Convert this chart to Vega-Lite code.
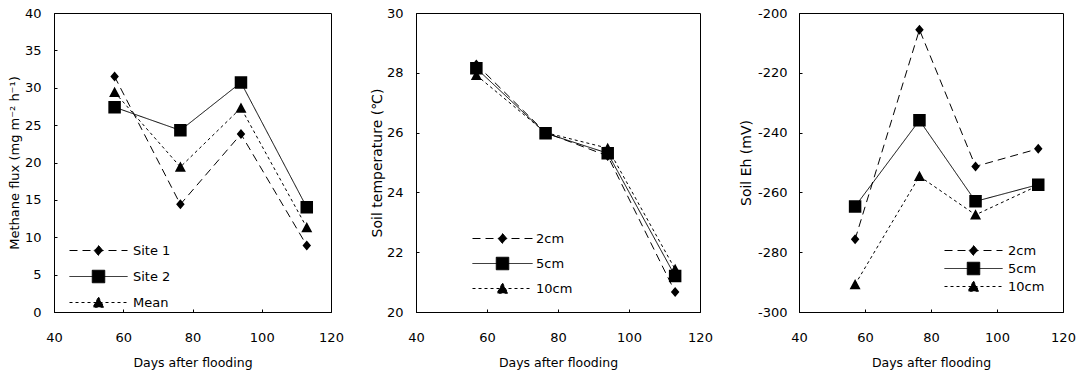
{
  "$schema": "https://vega.github.io/schema/vega-lite/v6.json",
  "padding": {"left": 7, "top": 6, "right": 5, "bottom": 4},
  "spacing": 25,
  "resolve": {"scale": {"shape": "independent", "strokeDash": "independent"}, "legend": {"shape": "independent", "strokeDash": "independent"}},
  "config": {
    "font": "DejaVu Sans",
    "view": {"stroke": "black", "strokeWidth": 1},
    "axis": {"grid": false, "domainColor": "black", "tickColor": "black", "tickSize": -3, "labelColor": "black", "titleColor": "black", "labelFontSize": 13, "titleFontSize": 12.5, "titleFontWeight": "normal", "labelFont": "DejaVu Sans", "titleFont": "DejaVu Sans", "labelFlush": false, "labelOverlap": false, "labelExpr": "'' + datum.value"},
    "axisX": {"labelPadding": 22, "titlePadding": 12},
    "legend": {"labelFontSize": 13, "labelColor": "black", "labelFont": "DejaVu Sans", "symbolStrokeColor": "black", "symbolStrokeWidth": 1, "symbolFillColor": "black", "symbolSize": 100, "padding": 0}
  },
  "datasets": {
    "flux": [
      {"day": 57.5, "v": 31.5, "s": "Site 1"}, {"day": 76.5, "v": 14.4, "s": "Site 1"}, {"day": 94, "v": 23.8, "s": "Site 1"}, {"day": 113, "v": 8.9, "s": "Site 1"},
      {"day": 57.5, "v": 27.4, "s": "Site 2"}, {"day": 76.5, "v": 24.3, "s": "Site 2"}, {"day": 94, "v": 30.7, "s": "Site 2"}, {"day": 113, "v": 14.0, "s": "Site 2"},
      {"day": 57.5, "v": 29.4, "s": "Mean"}, {"day": 76.5, "v": 19.4, "s": "Mean"}, {"day": 94, "v": 27.3, "s": "Mean"}, {"day": 113, "v": 11.3, "s": "Mean"}
    ],
    "temp": [
      {"day": 57, "v": 28.28, "s": "2cm"}, {"day": 76.5, "v": 26.0, "s": "2cm"}, {"day": 94, "v": 25.22, "s": "2cm"}, {"day": 113, "v": 20.67, "s": "2cm"},
      {"day": 57, "v": 28.15, "s": "5cm"}, {"day": 76.5, "v": 25.98, "s": "5cm"}, {"day": 94, "v": 25.31, "s": "5cm"}, {"day": 113, "v": 21.2, "s": "5cm"},
      {"day": 57, "v": 27.92, "s": "10cm"}, {"day": 76.5, "v": 26.0, "s": "10cm"}, {"day": 94, "v": 25.48, "s": "10cm"}, {"day": 113, "v": 21.43, "s": "10cm"}
    ],
    "eh": [
      {"day": 57, "v": -275.7, "s": "2cm"}, {"day": 76.5, "v": -205.6, "s": "2cm"}, {"day": 93.5, "v": -251.3, "s": "2cm"}, {"day": 112.5, "v": -245.4, "s": "2cm"},
      {"day": 57, "v": -264.7, "s": "5cm"}, {"day": 76.5, "v": -235.9, "s": "5cm"}, {"day": 93.5, "v": -263.0, "s": "5cm"}, {"day": 112.5, "v": -257.4, "s": "5cm"},
      {"day": 57, "v": -290.8, "s": "10cm"}, {"day": 76.5, "v": -254.6, "s": "10cm"}, {"day": 93.5, "v": -267.5, "s": "10cm"}, {"day": 112.5, "v": -257.7, "s": "10cm"}
    ]
  },
  "hconcat": [
    {
      "width": 277, "height": 299,
      "data": {"name": "flux"},
      "encoding": {
        "x": {"field": "day", "type": "quantitative", "scale": {"domain": [40, 120], "nice": false}, "axis": {"values": [40, 60, 80, 100, 120], "title": "Days after flooding"}},
        "y": {"field": "v", "type": "quantitative", "scale": {"domain": [0, 40], "nice": false}, "axis": {"values": [0, 5, 10, 15, 20, 25, 30, 35, 40], "title": "Methane flux (mg m⁻² h⁻¹)", "titleFontSize": 13, "labelPadding": 16, "titlePadding": 3}}
      },
      "layer": [
        {"mark": {"type": "line", "color": "black", "strokeWidth": 1},
         "encoding": {"strokeDash": {"field": "s", "type": "nominal", "scale": {"domain": ["Site 1", "Site 2", "Mean"], "range": [[8, 5], [1, 0], [3, 3]]},
             "legend": {"orient": "none", "legendX": 38, "legendY": 231, "title": null, "labelOffset": 28, "rowPadding": 10, "encode": {"symbols": {"update": {"stroke": {"value": "black"}, "strokeWidth": {"value": 1}, "fill": {"value": "black"}}}}}}}},
        {"mark": {"type": "point", "filled": true, "color": "black", "size": 100, "opacity": 1},
         "encoding": {
           "shape": {"field": "s", "type": "nominal", "scale": {"domain": ["Site 1", "Site 2", "Mean"], "range": ["M-5.8,0H5.8M0,-1L0.85,0L0,1L-0.85,0Z", "M-5.8,0H5.8M-1.25,-1.25H1.25V1.25H-1.25Z", "M-5.8,0H5.8M0,-1.1L1.1,0.95H-1.1Z"]},
             "legend": {"orient": "none", "legendX": 38, "legendY": 231, "title": null, "labelOffset": 28, "rowPadding": 10, "encode": {"symbols": {"update": {"stroke": {"value": "black"}, "strokeWidth": {"value": 1}, "fill": {"value": "black"}}}}}},
           "strokeDash": {"field": "s", "type": "nominal", "scale": {"domain": ["Site 1", "Site 2", "Mean"], "range": [[8, 5], [1, 0], [3, 3]]},
             "legend": {"orient": "none", "legendX": 38, "legendY": 231, "title": null, "labelOffset": 28, "rowPadding": 10, "encode": {"symbols": {"update": {"stroke": {"value": "black"}, "strokeWidth": {"value": 1}, "fill": {"value": "black"}}}}}}
         }}
      ]
    },
    {
      "width": 284, "height": 299,
      "data": {"name": "temp"},
      "encoding": {
        "x": {"field": "day", "type": "quantitative", "scale": {"domain": [40, 120], "nice": false}, "axis": {"values": [40, 60, 80, 100, 120], "title": "Days after flooding"}},
        "y": {"field": "v", "type": "quantitative", "scale": {"domain": [20, 30], "nice": false}, "axis": {"values": [20, 22, 24, 26, 28, 30], "title": "Soil temperature (℃)", "titleFontSize": 14, "labelPadding": 16, "titlePadding": 2}}
      },
      "layer": [
        {"mark": {"type": "line", "color": "black", "strokeWidth": 1},
         "encoding": {"strokeDash": {"field": "s", "type": "nominal", "scale": {"domain": ["2cm", "5cm", "10cm"], "range": [[8, 5], [1, 0], [3, 3]]},
             "legend": {"orient": "none", "legendX": 80, "legendY": 219, "title": null, "labelOffset": 27, "rowPadding": 9, "encode": {"symbols": {"update": {"stroke": {"value": "black"}, "strokeWidth": {"value": 1}, "fill": {"value": "black"}}}}}}}},
        {"mark": {"type": "point", "filled": true, "color": "black", "size": 100, "opacity": 1},
         "encoding": {
           "shape": {"field": "s", "type": "nominal", "scale": {"domain": ["2cm", "5cm", "10cm"], "range": ["M-6,0H6M0,-1L0.85,0L0,1L-0.85,0Z", "M-6,0H6M-1.25,-1.25H1.25V1.25H-1.25Z", "M-6,0H6M0,-1.1L1.1,0.95H-1.1Z"]},
             "legend": {"orient": "none", "legendX": 80, "legendY": 219, "title": null, "labelOffset": 27, "rowPadding": 9, "encode": {"symbols": {"update": {"stroke": {"value": "black"}, "strokeWidth": {"value": 1}, "fill": {"value": "black"}}}}}},
           "strokeDash": {"field": "s", "type": "nominal", "scale": {"domain": ["2cm", "5cm", "10cm"], "range": [[8, 5], [1, 0], [3, 3]]},
             "legend": {"orient": "none", "legendX": 80, "legendY": 219, "title": null, "labelOffset": 27, "rowPadding": 9, "encode": {"symbols": {"update": {"stroke": {"value": "black"}, "strokeWidth": {"value": 1}, "fill": {"value": "black"}}}}}}
         }}
      ]
    },
    {
      "width": 264, "height": 299,
      "data": {"name": "eh"},
      "encoding": {
        "x": {"field": "day", "type": "quantitative", "scale": {"domain": [40, 120], "nice": false}, "axis": {"values": [40, 60, 80, 100, 120], "title": "Days after flooding"}},
        "y": {"field": "v", "type": "quantitative", "scale": {"domain": [-300, -200], "nice": false}, "axis": {"values": [-300, -280, -260, -240, -220, -200], "title": "Soil Eh (mV)", "titleFontSize": 14, "labelPadding": 15, "titlePadding": 4}}
      },
      "layer": [
        {"mark": {"type": "line", "color": "black", "strokeWidth": 1},
         "encoding": {"strokeDash": {"field": "s", "type": "nominal", "scale": {"domain": ["2cm", "5cm", "10cm"], "range": [[8, 5], [1, 0], [3, 3]]},
             "legend": {"orient": "none", "legendX": 168, "legendY": 231, "title": null, "labelOffset": 28, "rowPadding": 2, "encode": {"symbols": {"update": {"stroke": {"value": "black"}, "strokeWidth": {"value": 1}, "fill": {"value": "black"}}}}}}}},
        {"mark": {"type": "point", "filled": true, "color": "black", "size": 100, "opacity": 1},
         "encoding": {
           "shape": {"field": "s", "type": "nominal", "scale": {"domain": ["2cm", "5cm", "10cm"], "range": ["M-5.8,0H5.8M0,-1L0.85,0L0,1L-0.85,0Z", "M-5.8,0H5.8M-1.25,-1.25H1.25V1.25H-1.25Z", "M-5.8,0H5.8M0,-1.1L1.1,0.95H-1.1Z"]},
             "legend": {"orient": "none", "legendX": 168, "legendY": 231, "title": null, "labelOffset": 28, "rowPadding": 2, "encode": {"symbols": {"update": {"stroke": {"value": "black"}, "strokeWidth": {"value": 1}, "fill": {"value": "black"}}}}}},
           "strokeDash": {"field": "s", "type": "nominal", "scale": {"domain": ["2cm", "5cm", "10cm"], "range": [[8, 5], [1, 0], [3, 3]]},
             "legend": {"orient": "none", "legendX": 168, "legendY": 231, "title": null, "labelOffset": 28, "rowPadding": 2, "encode": {"symbols": {"update": {"stroke": {"value": "black"}, "strokeWidth": {"value": 1}, "fill": {"value": "black"}}}}}}
         }}
      ]
    }
  ]
}
